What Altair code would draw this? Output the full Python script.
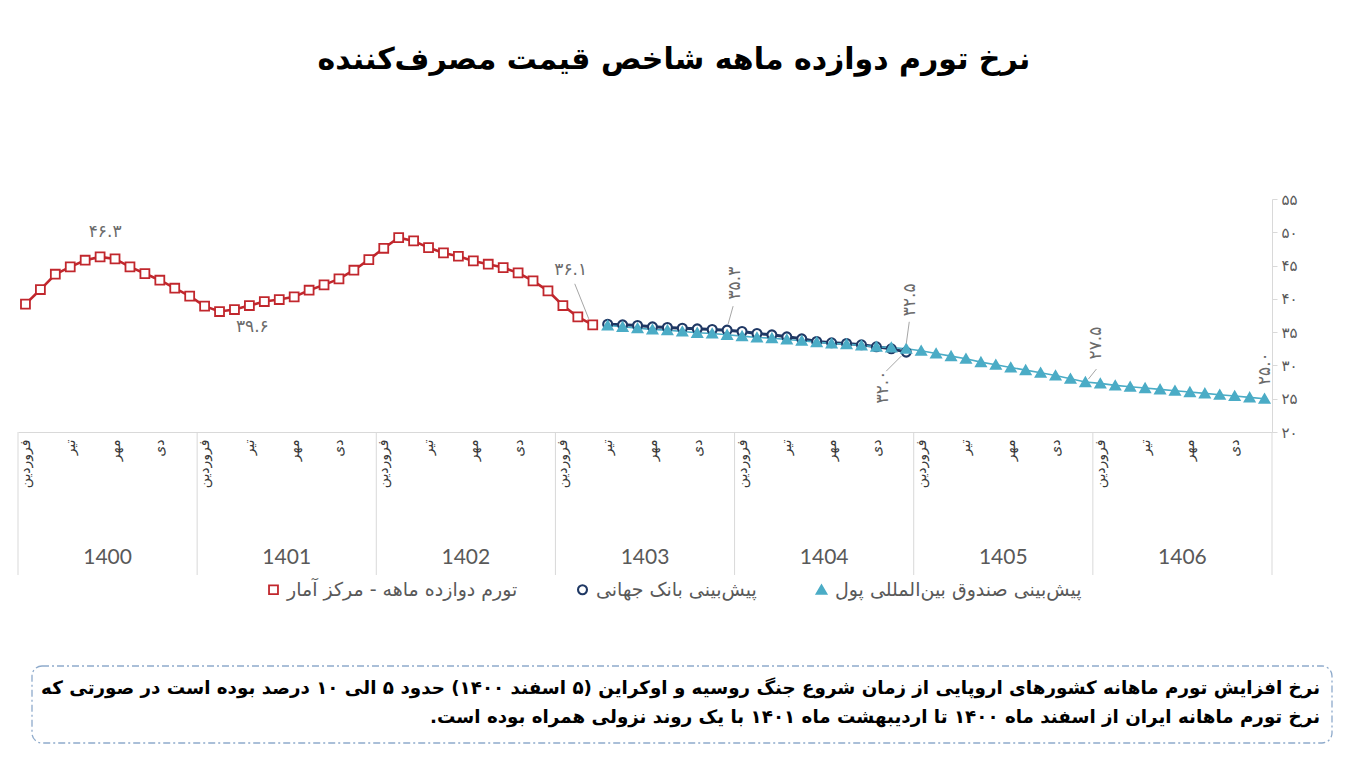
import json
import altair as alt
import pandas as pd

# ---------------- data ----------------
title_text = "نرخ تورم دوازده ماهه شاخص قیمت مصرف‌کننده"
months_fa = ["فروردین", "تیر", "مهر", "دی"]          # every third month label
years = ["1400", "1401", "1402", "1403", "1404", "1405", "1406"]
series_names = [
    "تورم دوازده ماهه - مرکز آمار",
    "پیش‌بینی بانک جهانی",
    "پیش‌بینی صندوق بین‌المللی پول",
]

# month index 0 = فروردین 1400
red_start = 0
red_values = [39.2, 41.4, 43.7, 44.8, 45.8, 46.3, 46.0, 44.8, 43.8, 42.8, 41.6, 40.4,
              38.9, 38.1, 38.4, 39.0, 39.6, 39.9, 40.3, 41.3, 42.1, 43.0, 44.3, 45.9,
              47.6, 49.2, 48.7, 47.7, 46.9, 46.4, 45.7, 45.2, 44.7, 43.9, 42.7, 41.2,
              39.0, 37.3, 36.1]
wb_start = 39
wb_values = [36.2, 36.1, 36.0, 35.8, 35.7, 35.6, 35.5, 35.4, 35.3, 35.1, 34.8, 34.6,
             34.3, 34.0, 33.6, 33.4, 33.3, 33.1, 32.8, 32.5, 32.0]
imf_start = 39
imf_values = [36.0, 35.8, 35.6, 35.4, 35.3, 35.1, 34.9, 34.8, 34.6, 34.4, 34.2, 34.1,
              33.9, 33.7, 33.5, 33.3, 33.2, 33.0, 32.8, 32.7, 32.5,
              32.2, 31.8, 31.4, 31.0, 30.5, 30.1, 29.7, 29.3, 28.9, 28.5, 28.0, 27.5,
              27.3, 27.0, 26.8, 26.6, 26.4, 26.2, 26.0, 25.8, 25.6, 25.4, 25.2, 25.0]

y_ticks = [20, 25, 30, 35, 40, 45, 50, 55]

# labelled points: (series number, month index)
labelled = [(0, 5), (0, 16), (0, 38), (1, 47), (1, 59), (2, 59), (2, 71), (2, 83)]

note_lines = [
    "نرخ افزایش تورم ماهانه کشورهای اروپایی از زمان شروع جنگ روسیه و اوکراین (۵ اسفند ۱۴۰۰) حدود ۵ الی ۱۰ درصد بوده است در صورتی که",
    "نرخ تورم ماهانه ایران از اسفند ماه ۱۴۰۰ تا اردیبهشت ماه ۱۴۰۱ با یک روند نزولی همراه بوده است.\u200f",
]

# ---------------- helpers ----------------
FA = str.maketrans("0123456789", "۰۱۲۳۴۵۶۷۸۹")


def fa(s):
    return str(s).translate(FA)


starts = [red_start, wb_start, imf_start]
values = [red_values, wb_values, imf_values]
rows = []
for s, (st, vals) in enumerate(zip(starts, values)):
    for i, v in enumerate(vals):
        rows.append({"idx": st + i, "value": v, "series": series_names[s], "order": s})
df = pd.DataFrame(rows)

FONT = "DejaVu Sans"
W, H = 1254, 233
N_MONTHS = 12 * len(years)

x_scale = alt.Scale(domain=[-0.5, N_MONTHS - 0.5], nice=False, zero=False)
y_scale = alt.Scale(domain=[y_ticks[0], y_ticks[-1]], nice=False, zero=False)

month_expr = json.dumps(months_fa, ensure_ascii=False) + "[(datum.value % 12) / 3]"
ytick_expr = (json.dumps([fa(t) for t in y_ticks], ensure_ascii=False)
              + f"[(datum.value - {y_ticks[0]}) / {y_ticks[1] - y_ticks[0]}]")

X_AXIS = alt.Axis(
    values=list(range(0, N_MONTHS, 3)), labelExpr=month_expr, labelAngle=270,
    labelAlign="right", labelBaseline="middle", labelPadding=7, labelFont=FONT,
    labelFontSize=14, labelColor="#3a3a3a", ticks=False, domainColor="#d9d9d9",
    grid=False, title=None, labelOverlap=False)
Y_AXIS = alt.Axis(
    orient="right", values=y_ticks, tickCount=len(y_ticks), labelExpr=ytick_expr,
    domainColor="#d9d9d9", tickColor="#d9d9d9", tickSize=5, labelPadding=4,
    grid=False, title=None, labelFont=FONT, labelFontSize=15, labelColor="#595959",
    labelOverlap=False, labelBound=False, labelFlush=False)


def X(field="idx"):
    return alt.X(f"{field}:Q", scale=x_scale, axis=X_AXIS)


def Y(field="value"):
    return alt.Y(f"{field}:Q", scale=y_scale, axis=Y_AXIS)


colors = ["#c1272d", "#1f3864", "#4bacc6"]
fills = ["white", "white", "#4bacc6"]
shapes = ["square", "circle", "triangle-up"]
sizes = [80, 80, 40]
point_widths = [1.8, 2.4, 1.0]
widths = [2.6, 3.0, 1.6]

base = alt.Chart(df)

lines = []
for s in range(3):
    lines.append(
        base.transform_filter(alt.datum.order == s)
        .mark_line(color=colors[s], strokeWidth=widths[s])
        .encode(x=X(), y=Y())
    )

points = base.mark_point(filled=False, opacity=1).encode(
    x=X(), y=Y(),
    shape=alt.Shape("series:N", scale=alt.Scale(domain=series_names, range=shapes),
                    legend=alt.Legend(orient="none", legendX=246, legendY=381,
                                      direction="horizontal", title=None,
                                      labelFont=FONT, labelFontSize=19,
                                      labelColor="#595959", columnPadding=55,
                                      padding=0, labelLimit=400)),
    stroke=alt.Stroke("series:N", scale=alt.Scale(domain=series_names, range=colors)),
    fill=alt.Fill("series:N", scale=alt.Scale(domain=series_names, range=fills)),
    size=alt.Size("series:N", scale=alt.Scale(domain=series_names, range=sizes)),
    strokeWidth=alt.StrokeWidth("series:N",
                                scale=alt.Scale(domain=series_names, range=point_widths)),
    order=alt.Order("order:Q"),
)

# data labels: placement per label (xOffset, yOffset, angle, leader offsets)
label_style = [
    (5, -25, 0, None),
    (-12, 25, 0, None),
    (-22, -55, 0, (-18, -41, -4, -6)),
    (8, -47, 270, (6, -24, 1, -6)),
    (-23, 35, 270, (-20, 19, -5, 4)),
    (4, -49, 270, (3, -27, 0, -5)),
    (11, -39, 270, (11, -13, 3, -3)),
    (0, -30, 270, None),
]
label_layers = []
for (s, m), (xo, yo, ang, lead) in zip(labelled, label_style):
    v = values[s][m - starts[s]]
    ldf = pd.DataFrame([{"idx": m, "value": v, "text": fa(f"{v:.1f}")}])
    label_layers.append(
        alt.Chart(ldf).mark_text(font=FONT, fontSize=17, color="#6b6b6b",
                                 xOffset=xo, yOffset=yo, angle=ang,
                                 align="center", baseline="middle")
        .encode(x=X(), y=Y(), text="text:N"))
    if lead:
        label_layers.append(
            alt.Chart(ldf).mark_rule(color="#a6a6a6", strokeWidth=1,
                                     xOffset=lead[0], yOffset=lead[1],
                                     x2Offset=lead[2], y2Offset=lead[3])
            .encode(x=X(), y=Y(), x2=alt.X2("idx"), y2=alt.Y2("value")))

# year bands under the axis
ydf = pd.DataFrame({"year": years, "k": list(range(len(years)))})
year_rules = alt.Chart(pd.DataFrame({"k": list(range(len(years) + 1))})).transform_calculate(
    idx="datum.k * 12 - 0.5").mark_rule(color="#d9d9d9", strokeWidth=1).encode(
    x=X(), y=alt.value(H), y2=alt.value(H + 143))
year_text = alt.Chart(ydf).transform_calculate(idx="datum.k * 12 + 5.5").mark_text(
    font="Lato", fontSize=21, color="#595959", baseline="middle").encode(
    x=X(), y=alt.value(H + 126), text="year:N")

# title
title = alt.Chart(pd.DataFrame({"t": [title_text]})).mark_text(
    font=FONT, fontSize=30, fontWeight="bold", color="black", baseline="middle").encode(
    x=alt.value(656), y=alt.value(-139), text="t:N")

# note box
box = alt.Chart(pd.DataFrame({"a": [0]})).mark_rect(
    fillOpacity=0, stroke="#8eaacb", strokeWidth=1.3, strokeDash=[7, 3, 2, 3],
    cornerRadius=10).encode(x=alt.value(14), x2=alt.value(1314),
                            y=alt.value(467), y2=alt.value(544))
note_layers = []
for k, line in enumerate(note_lines):
    note_layers.append(
        alt.Chart(pd.DataFrame({"line": [line]})).mark_text(
            font=FONT, fontSize=18.3, fontWeight="bold", color="black", align="right",
            baseline="middle").encode(
            x=alt.value(1302), y=alt.value(490 + 29 * k), text="line:N"))

chart = alt.layer(
    *lines, points, year_rules, year_text, *label_layers, title, box, *note_layers
).properties(
    width=W, height=H,
    autosize=alt.AutoSizeParams(type="none"),
    padding={"left": 10, "top": 191, "right": 80, "bottom": 319},
).configure(background="white", view=alt.ViewConfig(stroke=None))

chart.save("out.html", embed_options={"renderer": "svg", "actions": False})
